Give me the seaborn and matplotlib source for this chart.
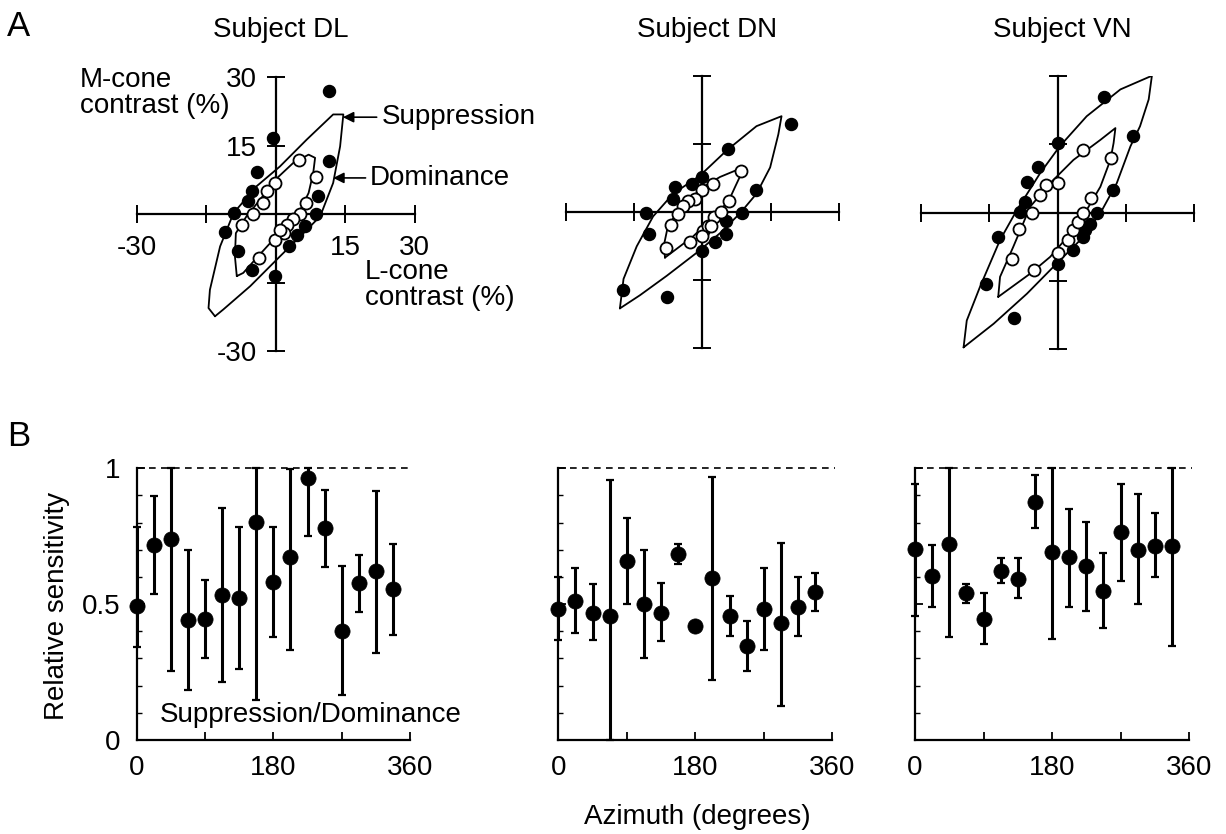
import numpy as np
import matplotlib
matplotlib.use("Agg")
import matplotlib.pyplot as plt
import seaborn as sns

sns.set_style("white")
plt.rcParams['font.family'] = ['Liberation Sans', 'DejaVu Sans']
plt.rcParams.update({"text.color": "black", "axes.labelcolor": "black",
                     "xtick.color": "black", "ytick.color": "black",
                     "axes.edgecolor": "black"})

# ---------------- data: panel A (cone contrast, %) ----------------
subjects = ["DL", "DN", "VN"]

# filled points = suppression thresholds, open points = dominance thresholds
sup_pts_x = {
    "DL": [11.4, -0.5, -4.1, 11.4, -5.2, -5.9, -9.1, -10.9, -8.1, -5.2, -0.1, 2.9, 4.5, 6.3, 8.8, 9.2],
    "DN": [19.5, 5.7, -0.1, -2.3, -6.0, -6.4, -12.4, -11.6, -17.5, -7.7, 0.0, 2.8, 5.3, 5.3, 8.8, 11.8],
    "VN": [10.2, 0.1, -4.2, -6.7, -7.1, -8.2, -13.0, -15.7, -9.5, 0.0, 3.5, 5.6, 6.1, 7.2, 8.6, 12.1, 16.5],
}
sup_pts_y = {
    "DL": [26.9, 16.6, 9.3, 11.5, 5.0, 2.8, 0.2, -4.0, -8.0, -12.2, -13.6, -6.9, -4.7, -2.7, -0.1, 3.9],
    "DN": [19.5, 13.9, 7.8, 6.3, 5.6, 3.0, -0.1, -4.7, -17.2, -18.7, -8.6, -6.6, -4.7, -2.0, -0.2, 4.9],
    "VN": [25.4, 15.3, 10.0, 6.8, 2.4, 0.2, -5.3, -15.7, -23.1, -11.3, -8.2, -5.3, -3.8, -2.4, -0.1, 5.0, 16.9],
}
dom_pts_x = {
    "DL": [5.0, 8.6, -0.1, -1.9, -2.7, -4.8, -7.3, 6.5, 5.3, 3.8, 2.4, 1.7, -0.1, -3.7, 0.9],
    "DN": [8.6, 2.4, 0.0, -1.6, -3.1, -4.2, -5.3, -6.9, -8.0, -2.7, 0.2, 1.3, 2.6, 4.2, 5.9, 2.0, 0.0],
    "VN": [5.6, 11.7, 0.2, -2.6, -3.8, -5.6, -8.4, -9.9, -5.1, 0.2, 2.4, 3.5, 4.6, 5.6, 7.3],
}
dom_pts_y = {
    "DL": [11.9, 8.2, 6.8, 5.0, 2.4, -0.1, -2.3, 2.4, -0.1, -1.2, -2.3, -4.2, -5.6, -9.6, -3.4],
    "DN": [9.1, 6.3, 5.0, 3.0, 2.5, 1.4, -0.4, -2.8, -7.8, -6.6, -4.2, -3.0, -1.1, 0.1, 2.5, -3.1, -5.3],
    "VN": [13.8, 12.0, 6.6, 6.1, 3.9, -0.1, -3.5, -10.2, -12.5, -8.8, -5.9, -3.8, -2.0, -0.1, 3.2],
}

# fitted contours
sup_curve_x = {
    "DL": [-13.1, -14.5, -14.2, -12.0, -9.1, -4.1, 0.9, 6.7, 12.4, 14.6, 13.9, 12.4, 9.6, 6.0, 0.9, -5.5, -11.3, -13.1],
    "DN": [-18.1, -17.3, -14.4, -10.8, -6.4, -0.5, 5.3, 11.9, 17.4, 16.7, 14.9, 11.9, 8.3, 3.9, -1.2, -7.8, -13.7, -18.1],
    "VN": [-20.6, -19.9, -17.0, -12.6, -8.9, -3.8, 0.5, 6.4, 13.8, 20.7, 20.0, 18.1, 16.0, 13.0, 9.4, 5.0, -0.9, -6.7, -14.0, -20.6],
}
sup_curve_y = {
    "DL": [-22.4, -20.6, -16.6, -7.1, 0.2, 6.1, 10.4, 16.3, 21.8, 21.8, 14.8, 6.8, -0.5, -4.2, -9.3, -15.8, -20.9, -22.4],
    "DN": [-21.2, -14.7, -7.5, -0.9, 4.1, 8.1, 13.6, 19.0, 21.2, 17.2, 9.9, 4.1, -0.2, -4.6, -8.9, -14.0, -18.3, -21.2],
    "VN": [-29.6, -23.7, -16.3, -6.0, 0.6, 8.7, 14.6, 21.2, 27.1, 30.1, 24.9, 19.0, 14.6, 6.5, -0.1, -6.0, -11.9, -17.8, -24.4, -29.6],
}
dom_curve_x = {
    "DL": [-8.4, -8.8, -8.6, -6.3, -3.4, -0.1, 3.8, 7.1, 8.5, 8.1, 7.1, 5.3, 2.4, -0.5, -4.1, -7.0, -8.4],
    "DN": [-8.2, -8.4, -7.5, -5.3, -2.7, 0.2, 3.9, 7.5, 8.6, 7.2, 5.7, 3.1, 1.0, -2.0, -4.9, -8.2],
    "VN": [-13.0, -12.6, -9.7, -6.0, -1.6, 3.5, 9.4, 12.7, 12.3, 11.6, 9.4, 6.4, 2.8, -1.6, -6.0, -13.0],
}
dom_curve_y = {
    "DL": [-13.6, -9.3, -4.2, -0.5, 3.1, 7.5, 11.2, 13.0, 12.3, 9.0, 4.6, 0.9, -2.7, -5.6, -9.6, -12.9, -13.6],
    "DN": [-10.0, -7.1, -2.8, 0.1, 3.0, 5.6, 7.8, 9.3, 8.6, 5.6, 2.3, -0.2, -2.4, -5.3, -7.5, -10.0],
    "VN": [-18.5, -14.1, -7.5, 1.3, 6.5, 11.6, 16.0, 18.6, 15.3, 11.6, 5.7, 0.6, -4.6, -9.7, -13.4, -18.5],
}

# ---------------- data: panel B (relative sensitivity) ----------------
azimuth = [0, 22.5, 45, 67.5, 90, 112.5, 135, 157.5, 180, 202.5, 225, 247.5, 270, 292.5, 315, 337.5]
rel_sens = {
    "DL": [0.494, 0.718, 0.739, 0.442, 0.444, 0.534, 0.521, 0.801, 0.583, 0.672, 0.963, 0.779, 0.402, 0.577, 0.623, 0.555],
    "DN": [0.481, 0.512, 0.469, 0.458, 0.660, 0.499, 0.469, 0.683, 0.421, 0.598, 0.458, 0.347, 0.481, 0.429, 0.491, 0.544],
    "VN": [0.703, 0.603, 0.721, 0.540, 0.445, 0.621, 0.593, 0.877, 0.691, 0.672, 0.639, 0.550, 0.764, 0.700, 0.715, 0.715],
}
rel_hi = {
    "DL": [0.785, 0.898, 1.0, 0.699, 0.589, 0.853, 0.785, 1.0, 0.785, 0.996, 1.0, 0.920, 0.640, 0.681, 0.918, 0.721],
    "DN": [0.601, 0.634, 0.573, 0.957, 0.816, 0.699, 0.577, 0.721, 0.421, 0.967, 0.531, 0.438, 0.634, 0.726, 0.601, 0.613],
    "VN": [0.941, 0.719, 1.0, 0.575, 0.540, 0.669, 0.669, 0.974, 1.0, 0.850, 0.804, 0.687, 0.944, 0.905, 0.837, 1.0],
}
rel_lo = {
    "DL": [0.344, 0.537, 0.255, 0.184, 0.301, 0.212, 0.260, 0.147, 0.380, 0.331, 0.751, 0.638, 0.166, 0.472, 0.321, 0.387],
    "DN": [0.368, 0.393, 0.368, 0.0, 0.501, 0.301, 0.364, 0.647, 0.421, 0.221, 0.383, 0.254, 0.331, 0.126, 0.383, 0.476],
    "VN": [0.458, 0.489, 0.379, 0.504, 0.352, 0.577, 0.522, 0.780, 0.373, 0.489, 0.474, 0.413, 0.587, 0.499, 0.599, 0.346],
}

# ---------------- layout (pixel boxes) ----------------
W, H = 1226, 834


def box(x0, y0, x1, y1):
    return [x0 / W, 1 - y1 / H, (x1 - x0) / W, (y1 - y0) / H]


def px(x, y):
    return x / W, 1 - y / H


top_boxes = {"DL": (136.7, 77, 414.7, 351),
             "DN": (565.7, 76.3, 838.9, 348.3),
             "VN": (920.7, 76.2, 1194.3, 349.2)}
bot_boxes = {"DL": (136.7, 468.3, 410, 740),
             "DN": (558.3, 468.3, 832.3, 740),
             "VN": (915, 468.3, 1189, 740)}

FS = 20
fig = plt.figure(figsize=(12.26, 8.34), dpi=100)
fig.patch.set_facecolor("white")

for s in subjects:
    # ---- panel A ----
    ax = fig.add_axes(box(*top_boxes[s]))
    ax.set_facecolor("none")
    ax.plot(sup_curve_x[s], sup_curve_y[s], color="k", lw=1.3, zorder=2)
    ax.plot(dom_curve_x[s], dom_curve_y[s], color="k", lw=1.3, zorder=2)
    sns.scatterplot(x=sup_pts_x[s], y=sup_pts_y[s], ax=ax, color="k", edgecolor="k",
                    s=75, linewidth=1, zorder=4, clip_on=False)
    sns.scatterplot(x=dom_pts_x[s], y=dom_pts_y[s], ax=ax, color="white", edgecolor="k",
                    s=75, linewidth=1.3, zorder=5, clip_on=False)
    ax.set_xlim(-30, 30)
    ax.set_ylim(-30, 30)
    for side in ["top", "right"]:
        ax.spines[side].set_visible(False)
    for side in ["left", "bottom"]:
        ax.spines[side].set_position(("data", 0))
        ax.spines[side].set_linewidth(1.6)
    ax.set_xticks([-30, -15, 0, 15, 30])
    ax.set_yticks([-30, -15, 0, 15, 30])
    ax.tick_params(direction="inout", length=13, width=1.4, labelsize=FS,
                   bottom=True, left=True)
    ax.tick_params(axis="x", pad=8.5)
    ax.tick_params(axis="y", pad=7)
    if s == "DL":
        ax.set_xticklabels(["-30", "", "", "15", "30"])
        ax.set_yticklabels(["-30", "", "", "15", "30"])
        ax.annotate("Suppression", xy=(14.5, 21.2), xytext=(22.8, 21.2),
                    ha="left", va="center", fontsize=FS, annotation_clip=False,
                    arrowprops=dict(arrowstyle="-|>", color="k", lw=1.2,
                                    mutation_scale=16, shrinkA=1, shrinkB=0))
        ax.annotate("Dominance", xy=(12.4, 7.9), xytext=(20.4, 7.9),
                    ha="left", va="center", fontsize=FS, annotation_clip=False,
                    arrowprops=dict(arrowstyle="-|>", color="k", lw=1.2,
                                    mutation_scale=16, shrinkA=1, shrinkB=0))
    else:
        ax.set_xticklabels([])
        ax.set_yticklabels([])
    ax.set_xlabel("")
    ax.set_ylabel("")
    x0, _, x1, _ = top_boxes[s]
    fig.text(*px(0.5 * (x0 + x1) + 5, 30), f"Subject {s}", ha="center", va="center", fontsize=FS)

    # ---- panel B ----
    bx = fig.add_axes(box(*bot_boxes[s]))
    bx.set_facecolor("none")
    vals = np.array(rel_sens[s])
    yerr = [vals - np.array(rel_lo[s]), np.array(rel_hi[s]) - vals]
    eb = bx.errorbar(azimuth, vals, yerr=yerr, fmt="none", ecolor="k",
                     elinewidth=2.2, capsize=3.2, capthick=1.6, zorder=3)
    for art in eb.lines[1] + eb.lines[2]:
        art.set_clip_on(False)
    sns.scatterplot(x=azimuth, y=vals, ax=bx, color="k", edgecolor="k", s=120,
                    linewidth=0.5, zorder=4, clip_on=False)
    bx.axhline(1, xmin=0, xmax=1.01, color="k", lw=1.2, ls=(0, (4, 3.2)), clip_on=False)
    bx.set_xlim(0, 360)
    bx.set_ylim(0, 1)
    for side in ["top", "right"]:
        bx.spines[side].set_visible(False)
    for side in ["left", "bottom"]:
        bx.spines[side].set_linewidth(1.6)
    bx.set_xticks([0, 90, 180, 270, 360])
    bx.set_xticklabels(["0", "", "180", "", "360"])
    bx.set_yticks([0, 0.5, 1])
    bx.set_yticks(np.arange(0.1, 1.0, 0.1), minor=True)
    bx.tick_params(axis="both", which="major", direction="in", length=6, width=1.3,
                   labelsize=FS, left=True, bottom=True)
    bx.tick_params(axis="x", pad=11)
    bx.tick_params(axis="y", pad=12)
    bx.tick_params(axis="y", which="minor", direction="in", length=3.5, width=1.0, left=True)
    if s == "DL":
        bx.set_yticklabels(["0", "0.5", "1"])
        bx.text(30.7, 0.092, "Suppression/Dominance", fontsize=FS, ha="left", va="center")
    else:
        bx.set_yticklabels([])
    bx.set_ylabel("")
    bx.set_xlabel("")

# figure labels
fig.text(*px(7, 26), "A", ha="left", va="center", fontsize=25)
fig.text(*px(7, 436), "B", ha="left", va="center", fontsize=25)
fig.text(*px(80, 80), "M-cone", ha="left", va="center", fontsize=FS)
fig.text(*px(80, 106), "contrast (%)", ha="left", va="center", fontsize=FS)
fig.text(*px(365, 272), "L-cone", ha="left", va="center", fontsize=FS)
fig.text(*px(365, 298), "contrast (%)", ha="left", va="center", fontsize=FS)
fig.text(*px(57, 606), "Relative sensitivity", rotation=90, ha="center", va="center",
         fontsize=FS)
fig.text(*px(697, 817), "Azimuth (degrees)", ha="center", va="center", fontsize=FS)

fig.savefig("out.png", dpi=100, facecolor="white")
